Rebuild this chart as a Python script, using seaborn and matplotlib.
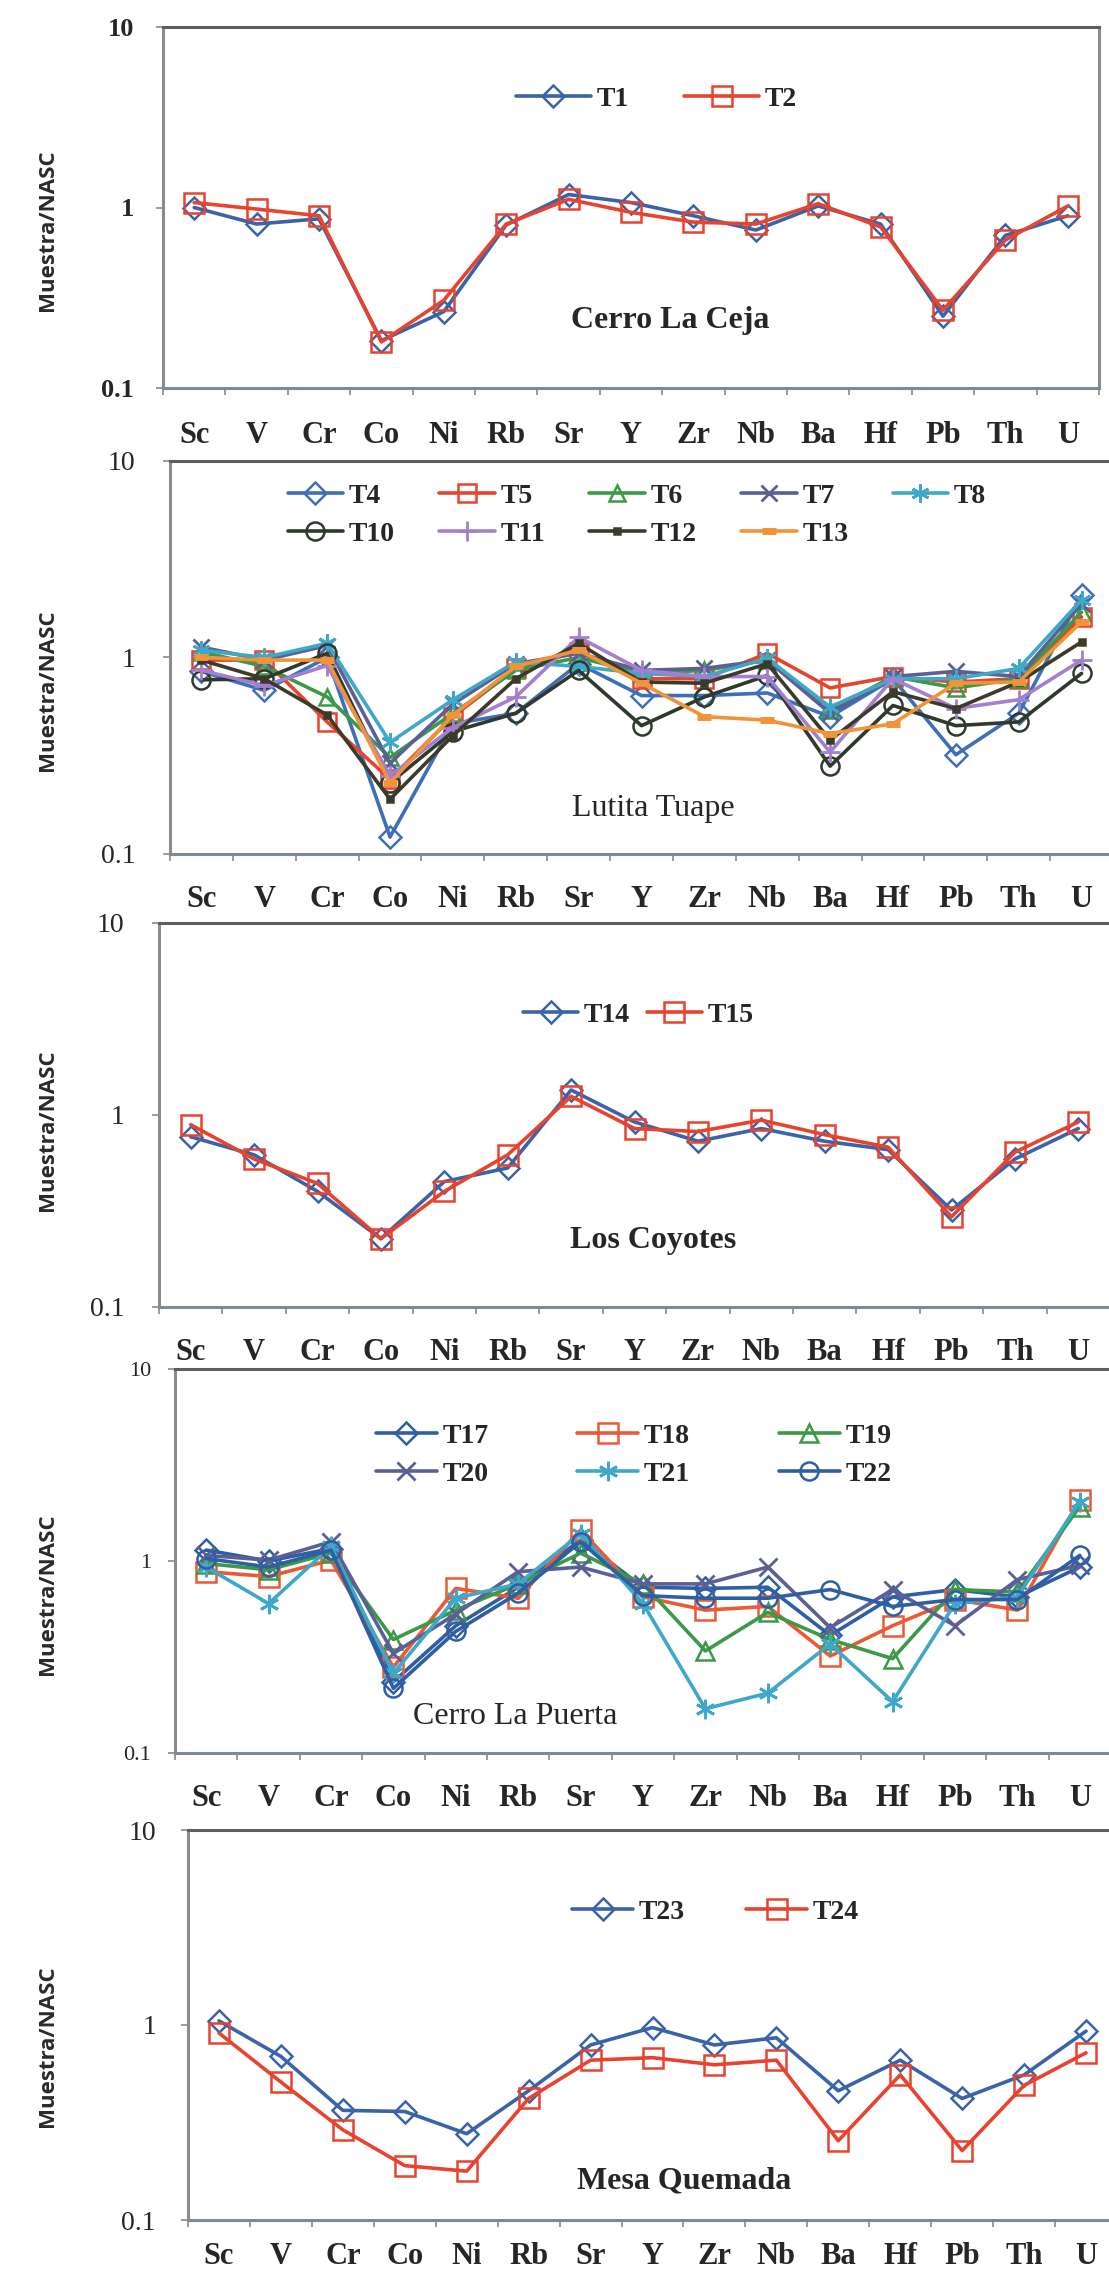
import numpy as np
import pandas as pd
import matplotlib
matplotlib.use("Agg")
import matplotlib.pyplot as plt
import seaborn as sns
from matplotlib.ticker import FixedLocator, NullFormatter, NullLocator

sns.set_theme(style="white")
plt.rcParams['font.family'] = ['Liberation Serif', 'DejaVu Serif']

elementos = ["Sc", "V", "Cr", "Co", "Ni", "Rb", "Sr", "Y", "Zr", "Nb", "Ba", "Hf", "Pb", "Th", "U"]

# Cerro La Ceja
T1 = [1.00, 0.81, 0.865, 0.183, 0.265, 0.80, 1.18, 1.065, 0.90, 0.75, 1.02, 0.81, 0.25, 0.70, 0.90]
T2 = [1.065, 0.98, 0.90, 0.18, 0.306, 0.81, 1.11, 0.94, 0.83, 0.81, 1.05, 0.78, 0.27, 0.66, 1.02]

# Lutita Tuape
T4 = [0.85, 0.68, 1.00, 0.122, 0.46, 0.52, 0.93, 0.64, 0.64, 0.66, 0.50, 0.78, 0.32, 0.52, 2.07]
T5 = [0.97, 0.97, 0.47, 0.24, 0.50, 0.88, 1.07, 0.78, 0.78, 1.05, 0.70, 0.80, 0.75, 0.78, 1.61]
T6 = [1.07, 0.90, 0.63, 0.31, 0.52, 0.86, 1.00, 0.83, 0.86, 0.97, 0.54, 0.80, 0.70, 0.78, 1.70]
T7 = [1.13, 0.97, 1.15, 0.29, 0.58, 0.93, 1.05, 0.86, 0.88, 0.97, 0.52, 0.80, 0.85, 0.80, 1.88]
T8 = [1.09, 1.00, 1.18, 0.37, 0.61, 0.95, 0.90, 0.83, 0.80, 0.99, 0.56, 0.78, 0.78, 0.88, 1.96]
T10 = [0.77, 0.78, 1.05, 0.23, 0.42, 0.52, 0.86, 0.45, 0.63, 0.81, 0.28, 0.57, 0.45, 0.47, 0.83]
T11 = [0.86, 0.72, 0.91, 0.25, 0.44, 0.63, 1.27, 0.86, 0.80, 0.80, 0.33, 0.78, 0.55, 0.61, 0.97]
T12 = [0.97, 0.78, 0.51, 0.19, 0.40, 0.78, 1.18, 0.75, 0.74, 0.93, 0.38, 0.67, 0.55, 0.75, 1.20]
T13 = [1.00, 0.97, 0.97, 0.23, 0.51, 0.90, 1.09, 0.74, 0.50, 0.48, 0.41, 0.46, 0.74, 0.75, 1.52]

# Los Coyotes
T14 = [0.77, 0.62, 0.40, 0.227, 0.45, 0.53, 1.35, 0.92, 0.73, 0.85, 0.73, 0.66, 0.32, 0.59, 0.85]
T15 = [0.89, 0.59, 0.44, 0.227, 0.40, 0.62, 1.25, 0.85, 0.82, 0.94, 0.79, 0.68, 0.295, 0.64, 0.92]

# Cerro La Puerta
T17 = [1.14, 1.00, 1.16, 0.235, 0.46, 0.73, 1.29, 0.73, 0.72, 0.73, 0.41, 0.65, 0.71, 0.65, 0.93]
T18 = [0.88, 0.83, 1.01, 0.28, 0.72, 0.64, 1.45, 0.65, 0.555, 0.58, 0.32, 0.46, 0.63, 0.555, 2.08]
T19 = [0.97, 0.90, 1.10, 0.39, 0.555, 0.76, 1.10, 0.76, 0.34, 0.54, 0.39, 0.31, 0.71, 0.69, 1.92]
T20 = [1.07, 1.01, 1.26, 0.33, 0.53, 0.88, 0.93, 0.76, 0.76, 0.93, 0.45, 0.71, 0.46, 0.80, 0.95]
T21 = [0.93, 0.60, 1.19, 0.26, 0.64, 0.76, 1.39, 0.60, 0.17, 0.205, 0.37, 0.185, 0.60, 0.65, 2.04]
T22 = [1.03, 0.93, 1.14, 0.217, 0.43, 0.68, 1.26, 0.66, 0.64, 0.64, 0.71, 0.58, 0.63, 0.63, 1.07]

# Mesa Quemada
T23 = [1.05, 0.69, 0.365, 0.36, 0.277, 0.46, 0.79, 0.97, 0.79, 0.86, 0.46, 0.66, 0.42, 0.555, 0.93]
T24 = [0.91, 0.51, 0.29, 0.19, 0.178, 0.42, 0.66, 0.68, 0.625, 0.66, 0.255, 0.555, 0.227, 0.49, 0.72]

# estilos (marcador, color, tamaño, relleno)
AZUL = "#3a63a8"
ROJO = "#e8432e"
VERDE = "#3a9a46"
MORADO = "#5b5f96"
CIAN = "#3ea8c8"
OSCURO = "#2f3a2c"
LILA = "#a27fcf"
OLIVA = "#3c3b2a"
NARANJA = "#f39338"
ASTER = (6, 2, 0)

estilos = {
    "T1": ("D", AZUL, 11, "none"), "T2": ("s", ROJO, 15, "none"),
    "T4": ("D", "#3f6fb5", 11, "none"), "T5": ("s", ROJO, 13, "none"),
    "T6": ("^", VERDE, 12, "none"), "T7": ("x", MORADO, 12, "none"),
    "T8": (ASTER, CIAN, 13, "none"), "T10": ("o", OSCURO, 13, "none"),
    "T11": ("+", LILA, 14, "none"), "T12": ("s", OLIVA, 5, OLIVA),
    "T13": ("_", NARANJA, 10, NARANJA),
    "T14": ("D", AZUL, 11, "none"), "T15": ("s", ROJO, 15, "none"),
    "T17": ("D", "#2f5fa3", 11, "none"), "T18": ("s", "#ec5a35", 14, "none"),
    "T19": ("^", VERDE, 13, "none"), "T20": ("x", MORADO, 13, "none"),
    "T21": (ASTER, CIAN, 14, "none"), "T22": ("o", "#2f5fa3", 13, "none"),
    "T23": ("D", AZUL, 11, "none"), "T24": ("s", ROJO, 15, "none"),
}

paneles = [
    {"series": {"T1": T1, "T2": T2}, "nombre": "Cerro La Ceja", "peso": "bold",
     "caja": (163, 1099, 27, 388), "ncol": 2, "leg": (0.527, 0.80), "hl": 2.7, "cs": 2.0,
     "txt": (0.542, 0.188), "ylab": 230, "ypad": 16, "yfs": 19, "yw": "bold", "xpad": 24},
    {"series": {"T4": T4, "T5": T5, "T6": T6, "T7": T7, "T8": T8,
                "T10": T10, "T11": T11, "T12": T12, "T13": T13},
     "nombre": "Lutita Tuape", "peso": "normal",
     "caja": (170, 1113, 461, 854), "ncol": 5, "leg": (0.495, 0.863), "hl": 2.0, "cs": 1.6,
     "txt": (0.513, 0.117), "ylab": 690, "ypad": 20, "yfs": 20, "yw": "normal", "xpad": 22},
    {"series": {"T14": T14, "T15": T15}, "nombre": "Los Coyotes", "peso": "bold",
     "caja": (159, 1110, 923, 1307), "ncol": 2, "leg": (0.504, 0.76), "hl": 2.0, "cs": 0.6,
     "txt": (0.52, 0.174), "ylab": 1130, "ypad": 20, "yfs": 20, "yw": "normal", "xpad": 22},
    {"series": {"T17": T17, "T18": T18, "T19": T19, "T20": T20, "T21": T21, "T22": T22},
     "nombre": "Cerro La Puerta", "peso": "normal",
     "caja": (175, 1111, 1369, 1753), "ncol": 3, "leg": (0.49, 0.776), "hl": 2.2, "cs": 3.2,
     "txt": (0.363, 0.094), "ylab": 1594, "ypad": 12, "yfs": 16, "yw": "normal", "xpad": 22},
    {"series": {"T23": T23, "T24": T24}, "nombre": "Mesa Quemada", "peso": "bold",
     "caja": (188, 1117, 1830, 2220), "ncol": 2, "leg": (0.568, 0.79), "hl": 2.2, "cs": 2.2,
     "txt": (0.534, 0.10), "ylab": 2046, "ypad": 18, "yfs": 20, "yw": "normal", "xpad": 16},
]


def orden_filas(items, ncol):
    # matplotlib llena la leyenda por columnas; reordenar para leer por filas
    n = len(items)
    nfil = -(-n // ncol)
    filas = [items[i * ncol:(i + 1) * ncol] for i in range(nfil)]
    res = []
    for c in range(ncol):
        for f in filas:
            if c < len(f):
                res.append(f[c])
    return res


W, H = 1109, 2273
fig = plt.figure(figsize=(W / 100, H / 100), dpi=100)
TEXTO = "#262626"

for p in paneles:
    l, r, t, b = p["caja"]
    ax = fig.add_axes([l / W, 1 - b / H, (r - l) / W, (b - t) / H])
    for nombre, vals in p["series"].items():
        mk, col, ms, fc = estilos[nombre]
        df = pd.DataFrame({"elemento": elementos, "valor": vals})
        extra = {}
        if mk == "_":
            extra["markeredgewidth"] = 5
        elif mk in ("x", "+") or mk == ASTER:
            extra["markeredgewidth"] = 2
        else:
            extra["markeredgewidth"] = 1.8
        sns.lineplot(data=df, x="elemento", y="valor", ax=ax, sort=False, estimator=None,
                     color=col, lw=2.6, marker=mk, markersize=ms,
                     markerfacecolor=fc, markeredgecolor=col, label=nombre, **extra)

    ax.set_yscale("log")
    ax.set_ylim(0.1, 10)
    ax.set_xlim(-0.5, len(elementos) - 0.5)
    ax.yaxis.set_major_locator(FixedLocator([0.1, 1, 10]))
    ax.yaxis.set_minor_locator(NullLocator())
    ax.set_yticklabels(["0.1", "1", "10"])
    ax.set_xticks(range(len(elementos)))
    ax.set_xticklabels(elementos)
    ax.xaxis.set_minor_locator(FixedLocator(np.arange(-0.5, len(elementos), 1.0)))
    ax.xaxis.set_minor_formatter(NullFormatter())
    ax.tick_params(axis="x", which="major", length=0, pad=p["xpad"], labelsize=22,
                   labelcolor=TEXTO)
    ax.tick_params(axis="x", which="minor", bottom=True, length=5, width=1.2,
                   color="#8a8a8a", direction="out")
    ax.tick_params(axis="y", which="major", left=True, length=5, width=1.2,
                   color="#8a8a8a", direction="out", pad=p["ypad"],
                   labelsize=p["yfs"], labelcolor=TEXTO)
    for lab in ax.get_xticklabels():
        lab.set_fontweight("bold")
    for lab in ax.get_yticklabels():
        lab.set_fontweight(p["yw"])
    ax.set_xlabel("")
    ax.set_ylabel("")
    for s in ax.spines.values():
        s.set_visible(True)
        s.set_color("#8c8c8c")
        s.set_linewidth(2.2)
    ax.spines["top"].set_color("#5e5e5e")
    ax.spines["bottom"].set_color("#7b8a99")

    handles, labels = ax.get_legend_handles_labels()
    pares = orden_filas(list(zip(handles, labels)), p["ncol"])
    ax.legend([h for h, _ in pares], [t_ for _, t_ in pares],
              loc="center", bbox_to_anchor=p["leg"], ncol=p["ncol"], frameon=False,
              handlelength=p["hl"], handletextpad=0.2, columnspacing=p["cs"],
              labelspacing=0.45, prop={"family": "Liberation Serif", "weight": "bold", "size": 20},
              labelcolor=TEXTO)
    ax.text(p["txt"][0], p["txt"][1], p["nombre"], transform=ax.transAxes,
            ha="center", va="center", fontsize=23, fontweight=p["peso"], color=TEXTO)

    fig.text(48 / W, 1 - p["ylab"] / H, "Muestra/NASC", rotation=90, ha="center",
             va="center", fontsize=16, fontweight="bold", color="#2a2a2a",
             family=["Open Sans", "DejaVu Sans"])

fig.savefig("out.png", dpi=100, facecolor="white")
